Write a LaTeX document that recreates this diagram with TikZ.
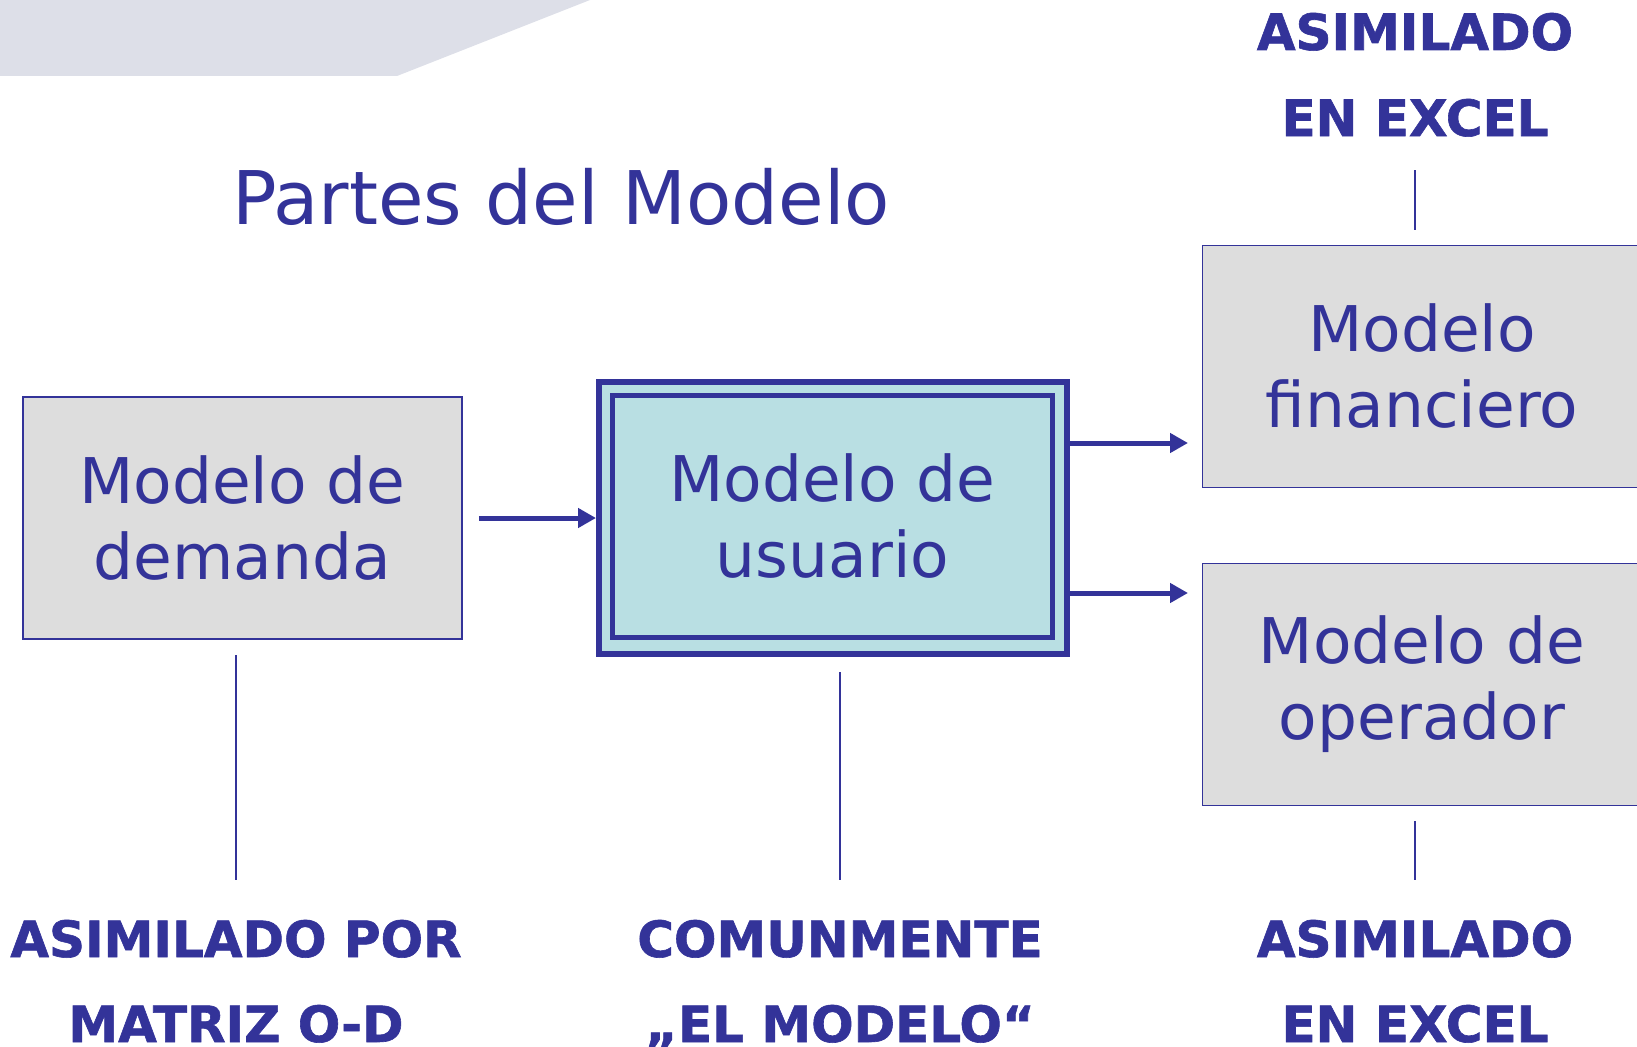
\documentclass[tikz,border=0pt]{standalone}
\usepackage{fontspec}
\setmainfont{DejaVu Sans}[BoldFeatures={FakeBold=1.2}]
\usetikzlibrary{arrows.meta,calc}
\definecolor{ink}{HTML}{333399}
\definecolor{boxgray}{HTML}{DDDDDD}
\definecolor{boxcyan}{HTML}{B9DFE3}
\definecolor{banner}{HTML}{DDDFE8}
\begin{document}
\begin{tikzpicture}[x=1pt,y=-1pt,
  box/.style={draw=ink, line width=1.8pt, fill=boxgray, minimum width=439pt, minimum height=242pt, inner sep=0pt, align=center, font=\fontsize{63}{76}\selectfont, text=ink},
  lbl/.style={font=\fontsize{50}{60}\selectfont\bfseries, text=ink, anchor=base, inner sep=0pt},
  arr/.style={draw=ink, line width=5pt, -{Triangle[length=18pt,width=19pt]}},
  tick/.style={draw=ink, line width=2.2pt}]
\useasboundingbox (0,0) rectangle (1637,1046);
\fill[banner] (0,0) -- (590,0) -- (397,76) -- (0,76) -- cycle;
\node[anchor=base west, font=\fontsize{74}{80}\selectfont, text=ink, inner sep=0pt] (title) at (232,224) {Partes del Modelo};
% boxes
\node[box] (dem) at (242.5,518) {Modelo de\\demanda};
\node[draw=ink, line width=6pt, fill=boxcyan, minimum width=468pt, minimum height=272pt, inner sep=0pt] (usu) at (833,518) {};
\node[draw=ink, line width=5pt, minimum width=440pt, minimum height=242pt, inner sep=0pt, align=center, font=\fontsize{63}{76}\selectfont, text=ink] (usuin) at (832.5,516.5) {Modelo de\\usuario};
\node[box] (fin) at (1422,366.5) {Modelo\\financiero};
\node[box] (ope) at (1422,684.5) {Modelo de\\operador};
% arrows
\coordinate (f1) at (1188,443);
\coordinate (o1) at (1188,593);
\draw[arr] ([xshift=16pt]dem.east) -- (usu.west);
\draw[arr] (usu.east |- f1) -- (f1);
\draw[arr] (usu.east |- o1) -- (o1);
% labels
\node[lbl] (tA1) at (1415,50) {ASIMILADO};
\node[lbl] (tA2) at (1415,136) {EN EXCEL};
\node[lbl] (b1a) at (236,957) {ASIMILADO POR};
\node[lbl] (b1b) at (236,1042) {MATRIZ O-D};
\node[lbl] (b2a) at (840,957) {COMUNMENTE};
\node[lbl] (b2b) at (840,1042) {„EL MODELO“};
\node[lbl] (b3a) at (1415,957) {ASIMILADO};
\node[lbl] (b3b) at (1415,1042) {EN EXCEL};
% ticks
\coordinate (t1a) at (236,655); \coordinate (t1b) at (236,880);
\coordinate (t2a) at (840,672); \coordinate (t2b) at (840,880);
\coordinate (t3a) at (1415,821); \coordinate (t3b) at (1415,880);
\coordinate (t4a) at (1415,170); \coordinate (t4b) at (1415,230);
\draw[tick] (t1a) -- (t1b);
\draw[tick] (t2a) -- (t2b);
\draw[tick] (t3a) -- (t3b);
\draw[tick] (t4a) -- (t4b);
\end{tikzpicture}
\end{document}
